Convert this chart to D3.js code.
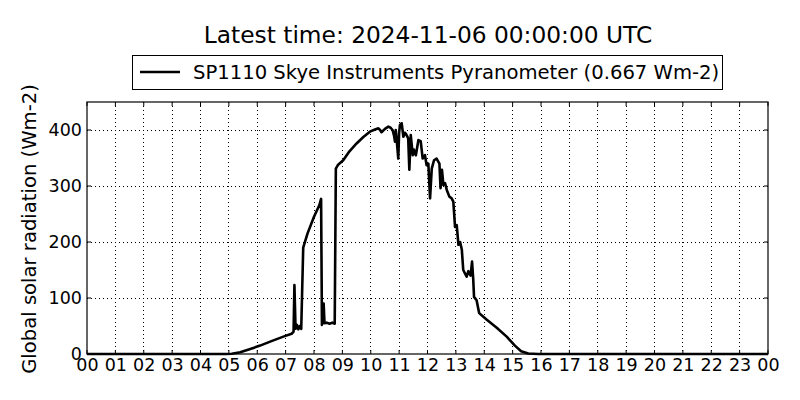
<!DOCTYPE html>
<html><head><meta charset="utf-8">
<script src="https://cdn.jsdelivr.net/npm/d3@7"></script>
<style>body{margin:0;background:#fff;} text{font-family:"DejaVu Sans",sans-serif;fill:#000;}</style>
</head><body>
<svg id="c" width="800" height="400"></svg>
<script>
const titleText = "Latest time: 2024-11-06 00:00:00 UTC";
const seriesName = "SP1110 Skye Instruments Pyranometer (0.667 Wm-2)";
const yLabel = "Global solar radiation (Wm-2)";
const xTickHours = d3.range(0, 25);
const xTickLabels = ["00","01","02","03","04","05","06","07","08","09","10","11","12","13","14","15","16","17","18","19","20","21","22","23","00"];
const yTicks = [0, 100, 200, 300, 400];
const hours = [0,4.9,5.1,5.4,5.7,6.1,6.5,6.92,7.21,7.28,7.31,7.35,7.4,7.45,7.5,7.55,7.62,7.77,8.0,8.19,8.25,8.28,8.31,8.34,8.37,8.45,8.55,8.65,8.73,8.77,8.85,9.03,9.25,9.5,9.75,9.97,10.15,10.27,10.33,10.38,10.5,10.62,10.7,10.77,10.82,10.855,10.88,10.91,10.97,11.0,11.03,11.09,11.15,11.2,11.24,11.32,11.36,11.41,11.48,11.52,11.59,11.68,11.76,11.83,11.91,11.97,12.03,12.09,12.15,12.23,12.32,12.42,12.46,12.51,12.56,12.62,12.68,12.77,12.85,12.91,12.97,13.03,13.09,13.15,13.21,13.26,13.32,13.38,13.44,13.52,13.57,13.61,13.64,13.73,13.82,14.09,14.44,14.79,15.08,15.3,15.55,15.9,24];
const values = [0,0,0.5,3,8,15,23,31,36,40,123,45,52,44,50,45,190,215,245,266,277,52,60,90,55,56,54,56,54,331,338,346,362,376,388,397,401,403,400,396,402,406,404,400,390,379,400,385,349,395,409,412,388,395,393,385,329,391,355,365,355,382,380,349,355,337,340,278,331,346,349,340,296,329,302,305,293,281,278,272,227,230,195,200,186,150,144,138,148,140,165,135,102,96,73,61,47,31,15,5,1,0,0];

const svg = d3.select("#c");
const L = 87, R = 768, T = 102, B = 354;
const x = d3.scaleLinear().domain([0, 24]).range([L, R]);
const y = d3.scaleLinear().domain([0, 450]).range([B, T]);

svg.append("text").attr("x", 428).attr("y", 43).attr("text-anchor", "middle")
  .style("font-size", "23.3px").text(titleText);

// grid
const g = svg.append("g");
g.selectAll(".vg").data(xTickHours.slice(1, -1)).join("line")
  .attr("x1", d => x(d)).attr("x2", d => x(d)).attr("y1", T).attr("y2", B)
  .attr("stroke", "#000").attr("stroke-width", 1).attr("stroke-dasharray", "1,3").attr("shape-rendering", "crispEdges");
g.selectAll(".hg").data(yTicks.slice(1)).join("line")
  .attr("x1", L).attr("x2", R).attr("y1", d => y(d)).attr("y2", d => y(d))
  .attr("stroke", "#000").attr("stroke-width", 1).attr("stroke-dasharray", "1,3").attr("shape-rendering", "crispEdges");

// axes
const xAxis = d3.axisBottom(x).tickValues(xTickHours).tickFormat((d, i) => xTickLabels[i]).tickSize(0).tickPadding(5);
const ax = svg.append("g").attr("transform", `translate(0,${B})`).call(xAxis);
ax.select(".domain").remove();
ax.selectAll("text").style("font-size", "17.5px").attr("font-family", "DejaVu Sans");
const yAxis = d3.axisLeft(y).tickValues(yTicks).tickFormat(d3.format("d")).tickSize(0).tickPadding(5);
const ay = svg.append("g").attr("transform", `translate(${L},0)`).call(yAxis);
ay.select(".domain").remove();
ay.selectAll("text").style("font-size", "17.5px").attr("font-family", "DejaVu Sans");

// inward ticks
svg.selectAll(".tb").data(xTickHours).join("line").attr("x1", d => x(d)).attr("x2", d => x(d)).attr("y1", B).attr("y2", B - 4).attr("stroke", "#000");
svg.selectAll(".tt").data(xTickHours).join("line").attr("x1", d => x(d)).attr("x2", d => x(d)).attr("y1", T).attr("y2", T + 4).attr("stroke", "#000");
svg.selectAll(".tl").data(yTicks).join("line").attr("x1", L).attr("x2", L + 4).attr("y1", d => y(d)).attr("y2", d => y(d)).attr("stroke", "#000");
svg.selectAll(".tr").data(yTicks).join("line").attr("x1", R).attr("x2", R - 4).attr("y1", d => y(d)).attr("y2", d => y(d)).attr("stroke", "#000");

// data line
const pts = hours.map((h, i) => [h, values[i]]);
svg.append("path").datum(pts)
  .attr("d", d3.line().x(d => x(d[0])).y(d => y(d[1])))
  .attr("fill", "none").attr("stroke", "#000").attr("stroke-width", 2.6).attr("stroke-linejoin", "round");

// frame
svg.append("rect").attr("x", L).attr("y", T).attr("width", R - L).attr("height", B - T)
  .attr("fill", "none").attr("stroke", "#000").attr("stroke-width", 1.2);

// y label
svg.append("text").attr("transform", `translate(36,${(T + B) / 2 + 1}) rotate(-90)`)
  .attr("text-anchor", "middle").style("font-size", "19.6px").text(yLabel);

// legend
svg.append("rect").attr("x", 132.5).attr("y", 55.5).attr("width", 590).attr("height", 34)
  .attr("fill", "#fff").attr("stroke", "#000").attr("stroke-width", 1);
svg.append("line").attr("x1", 140).attr("x2", 180).attr("y1", 72).attr("y2", 72).attr("stroke", "#000").attr("stroke-width", 2.6);
svg.append("text").attr("x", 193).attr("y", 79).style("font-size", "19.6px").text(seriesName);
</script>
</body></html>
